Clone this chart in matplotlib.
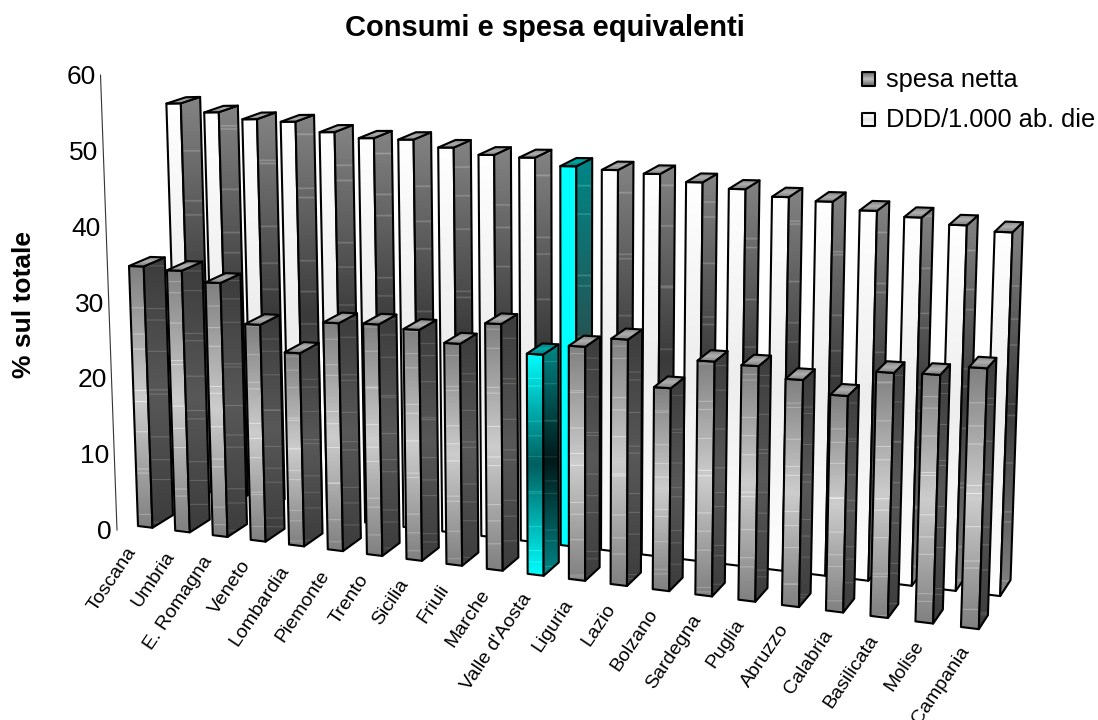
import numpy as np
import matplotlib
matplotlib.use("Agg")
import matplotlib.pyplot as plt
from matplotlib.patches import Polygon

plt.rcParams['font.family'] = ['Liberation Sans', 'DejaVu Sans']

regioni = ["Toscana", "Umbria", "E. Romagna", "Veneto", "Lombardia", "Piemonte", "Trento",
           "Sicilia", "Friuli", "Marche", "Valle d'Aosta", "Liguria", "Lazio", "Bolzano",
           "Sardegna", "Puglia", "Abruzzo", "Calabria", "Basilicata", "Molise", "Campania"]
spesa = [34.3, 33.9, 32.5, 27.4, 24.1, 28.1, 28.2, 27.8, 26.4, 29.0, 25.7,
         26.9, 28.0, 22.8, 26.1, 25.9, 24.7, 23.3, 26.1, 26.2, 27.2]
ddd = [53.9, 52.6, 51.6, 51.2, 49.8, 49.0, 48.8, 47.8, 46.9, 46.6, 45.6,
       45.2, 44.8, 43.9, 43.2, 42.4, 42.0, 41.1, 40.5, 39.8, 39.2]
y_ticks = [0, 10, 20, 30, 40, 50, 60]
evidenziata = "Valle d'Aosta"

# parametri della prospettiva (pixel della figura)
vp_vert = np.array([575., 13170.])  # fuga delle verticali
vp_depth = np.array([1638., -392.])  # fuga della profondita
unit = 7.58  # pixel per unita sull'asse y
bar_w = 0.39
front_depth = 0.0138


def ground(t, f):
    """ punto a terra: t lungo le categorie, f frazione verso la fuga di profondita """
    u = t / (1 - 0.00504 * t)
    g = np.array([138 + 37 * u, 526 + 4.54 * u])
    return g + (vp_depth - g) * f


def project(t, f, val):
    g = ground(t, f)
    h = val * unit * (1 + 0.013 * t) * (1 - f)
    k = h / (vp_vert[1] - g[1])
    return np.array([g[0] - (vp_vert[0] - g[0]) * k, g[1] - h])


def ramp(end, mid, seed=None, streak=0):
    """ sfumatura verticale end-mid-end, con righine chiare come nell'originale """
    n = 260
    pos = np.abs(np.linspace(-1, 1, n))[:, None]
    img = np.array(mid)[None, :] * (1 - pos) + np.array(end)[None, :] * pos
    if seed is not None:
        rows = np.arange(n)
        mask = ((rows * 7 + seed * 13) % 41 == 0) | ((rows * 11 + seed * 5) % 67 == 0)
        img[mask] = img[mask] + streak
    return np.clip(img, 0, 255).astype(np.uint8)[:, None, :]


def face(ax, pts, img, zorder):
    pts = np.array(pts)
    x0, y0 = pts.min(axis=0)
    x1, y1 = pts.max(axis=0)
    im = ax.imshow(img, extent=(x0, x1, y1, y0), origin='upper', aspect='auto',
                   interpolation='bilinear', zorder=zorder)
    poly = Polygon(pts, closed=True, fc='none', ec='black', lw=1.5, joinstyle='round', zorder=zorder + 0.1)
    ax.add_patch(poly)
    im.set_clip_path(poly)


def bar3d(ax, i, val, f0, f1, colors, zorder):
    a, b = i, i + bar_w
    s = 32
    fbl, fbr = project(a, f0, 0), project(b, f0, 0)
    ftl, ftr = project(a, f0, val), project(b, f0, val)
    bbr, btr = project(b, f1, 0), project(b, f1, val)
    btl = project(a, f1, val)
    face(ax, [fbl, fbr, ftr, ftl], ramp(*colors['front'], i * 3 + int(f0 * 1000), s if colors['front_streak'] else 0), zorder)
    face(ax, [fbr, bbr, btr, ftr], ramp(*colors['side'], i * 5 + 2 + int(f0 * 1000), s), zorder + 0.2)
    face(ax, [ftl, ftr, btr, btl], ramp(*colors['top'], i, 20), zorder + 0.4)


grigio_front = dict(front=((128, 128, 128), (205, 205, 205)), front_streak=True,
                    side=((60, 60, 60), (88, 88, 88)), top=((125, 125, 125), (175, 175, 175)))
ciano_front = dict(front=((0, 255, 255), (0, 95, 95)), front_streak=True,
                   side=((0, 135, 135), (0, 25, 25)), top=((0, 115, 115), (0, 170, 170)))
bianco_back = dict(front=((255, 255, 255), (238, 238, 238)), front_streak=False,
                   side=((132, 132, 132), (58, 58, 58)), top=((125, 125, 125), (175, 175, 175)))
ciano_back = dict(front=((0, 255, 255), (0, 255, 255)), front_streak=False,
                  side=((0, 135, 135), (40, 80, 80)), top=((0, 115, 115), (0, 170, 170)))

fig = plt.figure(figsize=(10.98, 7.2), dpi=100)
ax = fig.add_axes([0, 0, 1, 1])

# prima la serie dietro, poi quella davanti
for i, val in enumerate(ddd):
    f0 = 0.0272 + 0.00026 * i
    f1 = f0 + 0.0125 + 0.00016 * i
    stile = ciano_back if regioni[i] == evidenziata else bianco_back
    bar3d(ax, i, val, f0, f1, stile, 2 + i * 1.0)
for i, val in enumerate(spesa):
    stile = ciano_front if regioni[i] == evidenziata else grigio_front
    bar3d(ax, i, val, 0, front_depth, stile, 40 + i * 1.0)

# asse y
ax_base = np.array([117., 530.])
ax_k = (vp_vert[0] - ax_base[0]) / (vp_vert[1] - ax_base[1])
hs = np.array(y_ticks) * unit
ax.plot(ax_base[0] - ax_k * hs, ax_base[1] - hs, color='#333333', lw=0.8, zorder=1)
for v, h in zip(y_ticks, hs):
    ax.text(ax_base[0] - ax_k * h - 5, ax_base[1] - h + 2, str(v), ha='right', va='center',
            fontsize=19, color='black')

# etichette delle regioni
for i, nome in enumerate(regioni):
    g = ground(i, 0)
    ax.text(g[0] - 5 + 0.5 * i, g[1] + 23 - 0.1 * i, nome, rotation=56, rotation_mode='anchor',
            ha='right', va='center', fontsize=14, color='black')

ax.text(544.5, 28, "Consumi e spesa equivalenti", ha='center', va='center',
        fontsize=21, fontweight='bold', color='black')
ax.text(24, 304, "% sul totale", rotation=90, ha='center', va='center',
        fontsize=19, fontweight='bold', color='black')

# legenda
face(ax, [(862, 72), (875, 72), (875, 86), (862, 86)], ramp((100, 100, 100), (190, 190, 190)), 90)
face(ax, [(862, 113), (875, 113), (875, 126), (862, 126)], ramp((255, 255, 255), (232, 232, 232)), 90)
ax.text(886, 80, "spesa netta", ha='left', va='center', fontsize=18.3, color='black')
ax.text(886, 120, "DDD/1.000 ab. die", ha='left', va='center', fontsize=18.3, color='black')

ax.set_xlim(0, 1098)
ax.set_ylim(720, 0)
ax.axis('off')

fig.savefig("out.png", dpi=100)
